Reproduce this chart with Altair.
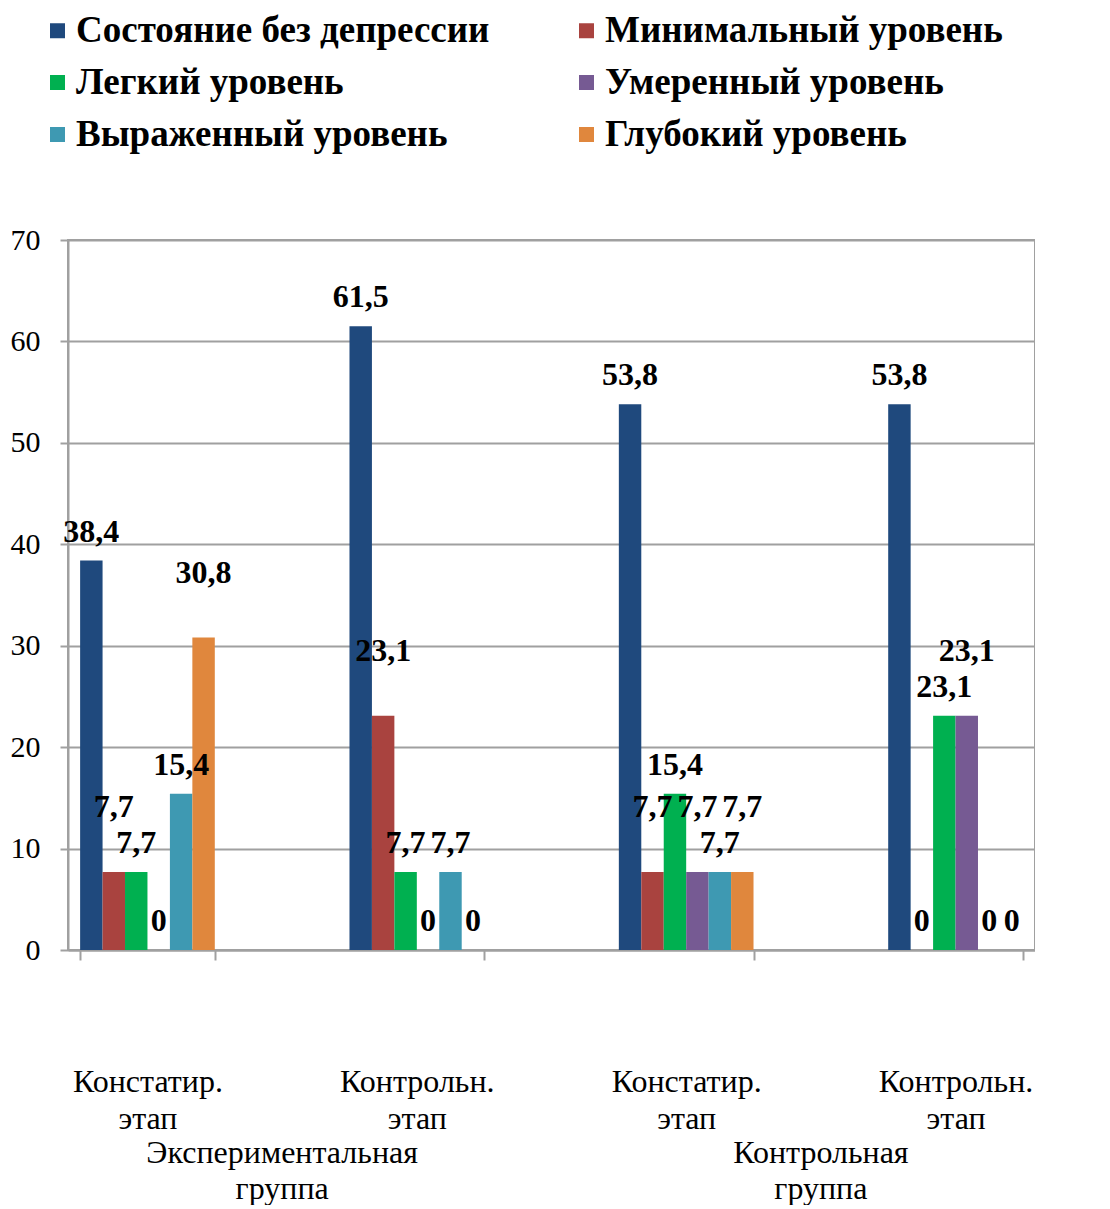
import altair as alt
import pandas as pd

groups = ["Экспериментальная группа", "Контрольная группа"]
stages = ["Констатир. этап", "Контрольн. этап"]
series = ["Состояние без депрессии", "Минимальный уровень", "Легкий уровень",
          "Умеренный уровень", "Выраженный уровень", "Глубокий уровень"]
colors = ["#1F497D", "#A9433F", "#00B050", "#765A93", "#3E99B2", "#E0873D"]

exp_const = [38.4, 7.7, 7.7, 0, 15.4, 30.8]
exp_contr = [61.5, 23.1, 7.7, 0, 7.7, 0]
ctl_const = [53.8, 7.7, 15.4, 7.7, 7.7, 7.7]
ctl_contr = [53.8, 0, 23.1, 23.1, 0, 0]

table = {
    (groups[0], stages[0]): exp_const,
    (groups[0], stages[1]): exp_contr,
    (groups[1], stages[0]): ctl_const,
    (groups[1], stages[1]): ctl_contr,
}

cats = []
rows = []
for g in groups:
    for s in stages:
        cat = f"{g}|{s}"
        cats.append(cat)
        for i, (ser, v) in enumerate(zip(series, table[(g, s)])):
            rows.append({"cat": cat, "series": ser, "idx": i, "value": v,
                         "label": f"{v:g}".replace(".", ",")})
df = pd.DataFrame(rows)
gdf = pd.DataFrame([{"cat": f"{g}|{stages[0]}", "glabel": g.replace(" ", "\n")} for g in groups])

# legend laid out row by row (two columns), as in the original
legend_order = series[0::2] + series[1::2]
legend_colors = colors[0::2] + colors[1::2]

FONT = "Liberation Serif"
GREY = "#A0A0A0"
W, H = 967, 710
P_IN, P_OUT = 0.5, 0.045
step = W / (len(cats) - P_IN + 2 * P_OUT)

xenc = alt.X(
    "cat:N", sort=cats,
    scale=alt.Scale(domain=cats, paddingInner=P_IN, paddingOuter=P_OUT),
    axis=alt.Axis(title=None,
                  labelExpr="isValid(datum.value) ? split(split(datum.label, '|')[1], ' ') : ''",
                  labelFont=FONT, labelFontSize=32, labelColor="black",
                  labelPadding=106, labelLineHeight=37, labelAngle=0,
                  tickBand="extent", tickSize=10, tickColor=GREY, tickWidth=2,
                  domainColor=GREY, domainWidth=2, grid=False),
)
xoff = alt.XOffset("series:N", sort=series, scale=alt.Scale(domain=series, paddingInner=0, paddingOuter=0))
yscale = alt.Scale(domain=[0, 70], nice=False)
yaxis = alt.Axis(title=None, values=list(range(0, 71, 10)), labelFont=FONT, labelFontSize=30,
                 labelColor="black", labelPadding=20, tickSize=8, tickColor=GREY, tickWidth=2,
                 domainColor=GREY, domainWidth=2, gridColor=GREY, gridWidth=2)

bars = alt.Chart(df).mark_bar().encode(
    x=xenc,
    xOffset=xoff,
    y=alt.Y("value:Q", scale=yscale, axis=yaxis),
    color=alt.Color("series:N", sort=legend_order,
                    scale=alt.Scale(domain=legend_order, range=legend_colors),
                    legend=alt.Legend(title=None, orient="none", legendX=-29, legendY=-228,
                                      columns=2, columnPadding=78, rowPadding=14,
                                      symbolType="square", symbolSize=225, symbolStrokeWidth=0,
                                      labelFont=FONT, labelFontSize=37, labelFontWeight="bold",
                                      labelColor="black", labelLimit=700, labelOffset=0)),
)

labels = alt.Chart(df).transform_calculate(
    ly="datum.value + ((datum.idx % 2 == 1 && datum.value > 0) ? 3.5 : 0)"
).mark_text(font=FONT, fontSize=32, fontWeight="bold", baseline="bottom", dy=-12, color="black").encode(
    x=xenc,
    xOffset=xoff,
    y=alt.Y("ly:Q", scale=yscale, axis=yaxis),
    text="label:N",
)

glabels = alt.Chart(gdf).mark_text(font=FONT, fontSize=32, color="black", baseline="middle",
                                    lineBreak="\n", lineHeight=36, dx=step / 2).encode(
    x=xenc,
    y=alt.value(H + 203),
    text="glabel:N",
)

chart = alt.layer(bars, labels, glabels).properties(
    width=W, height=H,
    padding={"left": 10, "top": 12, "right": 0, "bottom": 0},
    background="white",
).configure_view(stroke=GREY, strokeWidth=2)

chart.save("out.html", embed_options={"renderer": "svg", "actions": False})
